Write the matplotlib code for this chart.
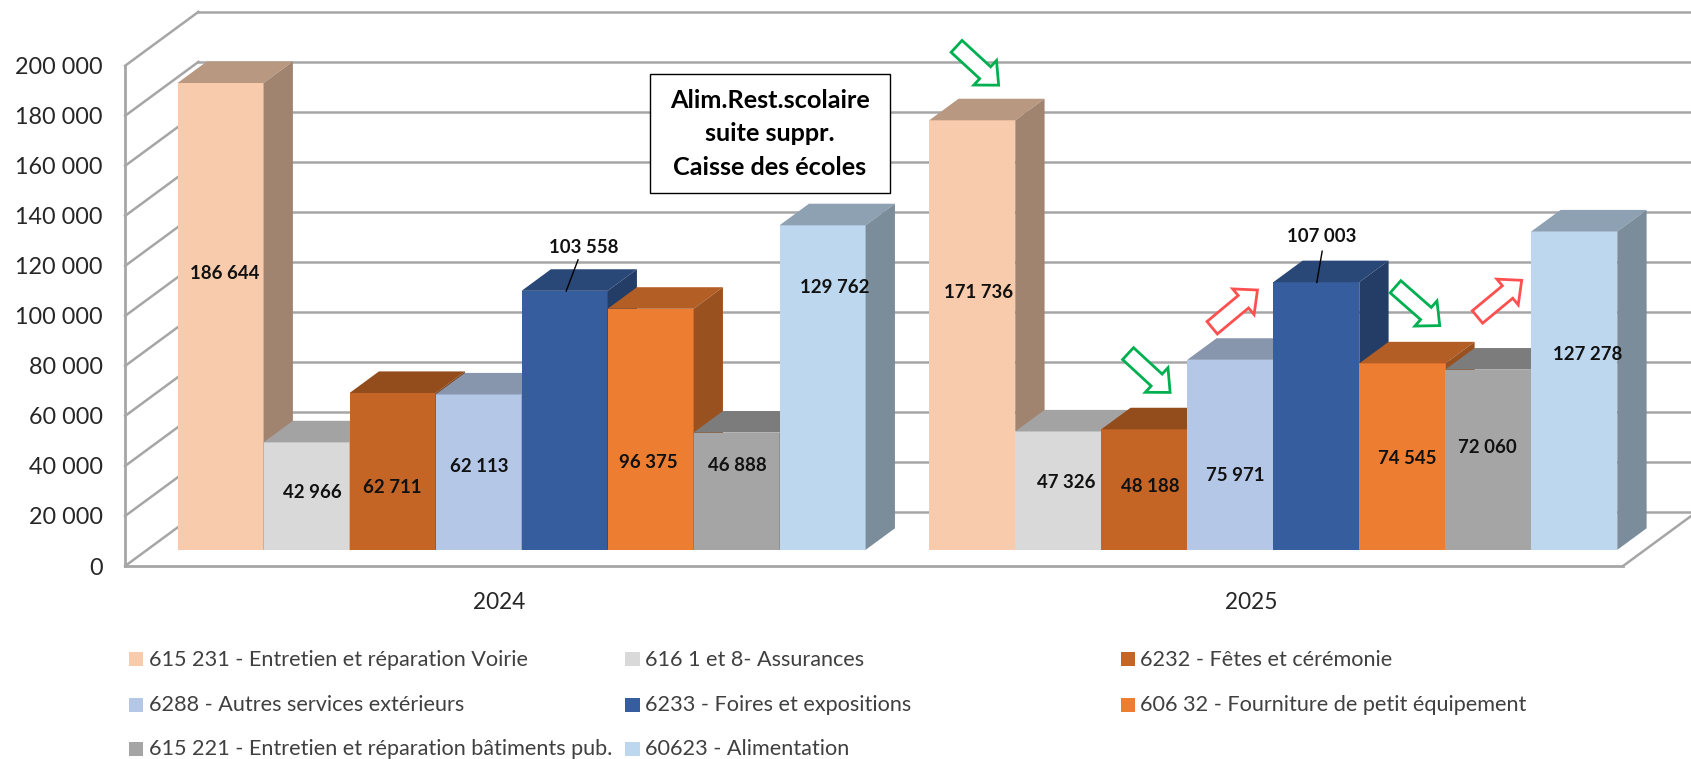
import matplotlib
matplotlib.use('Agg')
import matplotlib.pyplot as plt
from matplotlib.patches import FancyArrow, Rectangle
from matplotlib.ticker import FuncFormatter

plt.rcParams['font.family'] = ['Lato', 'DejaVu Sans']

# donnees
years = ['2024', '2025']
series = ['615 231 - Entretien et réparation Voirie',
          '616 1 et 8- Assurances',
          '6232 - Fêtes et cérémonie',
          '6288 - Autres services extérieurs',
          '6233 - Foires et expositions',
          '606 32 - Fourniture de petit équipement',
          '615 221 - Entretien et réparation bâtiments pub.',
          '60623 - Alimentation']
values_2024 = [186644, 42966, 62711, 62113, 103558, 96375, 46888, 129762]
values_2025 = [171736, 47326, 48188, 75971, 107003, 74545, 72060, 127278]
yticks = [0, 20000, 40000, 60000, 80000, 100000, 120000, 140000, 160000, 180000, 200000]
colors = ['#F7CBAC', '#D9D9D9', '#C46526', '#B4C7E7', '#365E9F', '#ED7D31', '#A5A5A5', '#BDD7EE']

GRID = '#A6A6A6'
W, H = 1568, 704      # repere de l'image reduite, pour les annotations
DX = 68 / 694.5       # profondeur du mur du fond, en unites de categorie
DY = 50 / 2.32 * 1000 # idem en unites de valeur
BW = 79.75 / 694.5    # largeur d'une barre
STEP = 697 / 694.5    # ecart entre les deux groupes

def fmt(v):
    return f'{v:,}'.replace(',', ' ')

def shade(c, k):
    rgb = matplotlib.colors.to_rgb(c)
    return tuple(x * k for x in rgb)

fig = plt.figure(figsize=(16.91, 7.59), dpi=100)
ax = fig.add_axes([116 / W, 1 - 525 / H, 1389 / W, 464 / H])
ax.set_xlim(-0.5, 1.5)
ax.set_ylim(0, 200000)
ax.patch.set_visible(False)

for s in ['top', 'right']:
    ax.spines[s].set_visible(False)
for s in ['left', 'bottom']:
    ax.spines[s].set_color(GRID)
    ax.spines[s].set_linewidth(2)
ax.spines['bottom'].set_zorder(1)

ax.set_yticks(yticks)
ax.yaxis.set_major_formatter(FuncFormatter(lambda v, p: fmt(int(v))))
ax.set_xticks([0, STEP])
ax.set_xticklabels(years)
ax.tick_params(axis='y', length=0, pad=16, labelsize=16.8, labelcolor='#262626')
ax.tick_params(axis='x', length=0, pad=19, labelsize=16.3, labelcolor='#262626')

# murs et grille
for v in yticks:
    ax.plot([-0.5, -0.5 + DX], [v, v + DY], color=GRID, lw=1.8, clip_on=False, zorder=1)
    ax.plot([-0.5 + DX, 1.5 + DX], [v + DY, v + DY], color=GRID, lw=1.8, clip_on=False, zorder=1)
ax.plot([1.5, 1.5 + DX], [0, DY], color=GRID, lw=1.8, clip_on=False, zorder=1)

# barres : de gauche a droite, chaque face avant recouvre le cote de la precedente
z = 2
for k, vals in enumerate([values_2024, values_2025]):
    for i, v in enumerate(vals):
        x0 = k * STEP + (i - 4) * BW + 0.3 * DX
        x1 = x0 + BW
        y0 = 0.3 * DY
        y1 = y0 + v
        ddx, ddy = 0.4 * DX, 0.4 * DY
        ax.bar(x0, v, BW, bottom=y0, align='edge', color=colors[i], clip_on=False, zorder=z)
        ax.fill([x0, x1, x1 + ddx, x0 + ddx], [y1, y1, y1 + ddy, y1 + ddy],
                color=shade(colors[i], 0.75), lw=0, clip_on=False, zorder=z)
        ax.fill([x1, x1 + ddx, x1 + ddx, x1], [y0, y0 + ddy, y1 + ddy, y1],
                color=shade(colors[i], 0.65), lw=0, clip_on=False, zorder=z)
        z += 1

# calque pour etiquettes, fleches et legende
ov = fig.add_axes([0, 0, 1, 1])
ov.set_xlim(0, W)
ov.set_ylim(H, 0)
ov.axis('off')

label_pos_2024 = [(208, 254), (290, 457), (364, 452), (444, 433), (541, 230), (601, 429), (684, 432), (774, 267)]
label_pos_2025 = [(907, 271), (989, 448), (1067, 451), (1145, 441), (1226, 219), (1305, 425), (1379, 415), (1472, 329)]
for vals, pos in [(values_2024, label_pos_2024), (values_2025, label_pos_2025)]:
    for v, (x, y) in zip(vals, pos):
        ov.text(x, y, fmt(v), ha='center', va='center', fontsize=13.4, fontweight='bold', color='#111111')

# traits de rappel
ov.plot([536, 525], [241, 270], color='black', lw=1)
ov.plot([1226, 1221], [233, 262], color='black', lw=1)

# encadre
ov.add_patch(Rectangle((603, 69), 222, 110, fc='white', ec='black', lw=1, zorder=5))
for y, t in zip([93, 124, 155], ['Alim.Rest.scolaire', 'suite suppr.', 'Caisse des écoles']):
    ov.text(714, y, t, ha='center', va='center', fontsize=18.2, fontweight='bold', color='black', zorder=6)

# fleches
GREEN, RED = '#00B050', '#FF5050'
arrows = [((887, 43), (926, 79), GREEN), ((1046, 328), (1085, 364), GREEN),
          ((1124, 304), (1166, 269), RED), ((1294, 266), (1335, 302), GREEN),
          ((1370, 294), (1411, 260), RED)]
for (x0, y0), (x1, y1), c in arrows:
    ov.add_patch(FancyArrow(x0, y0, x1 - x0, y1 - y0, width=15, head_width=31, head_length=17,
                            length_includes_head=True, fc='white', ec=c, lw=2, zorder=5))

# legende
legend_pos = [(120, 612), (580, 612), (1039, 612), (120, 654), (580, 654), (1039, 654), (120, 695), (580, 695)]
for name, c, (x, y) in zip(series, colors, legend_pos):
    ov.add_patch(Rectangle((x, y - 7), 13, 13, fc=c, ec='none'))
    ov.text(x + 18, y, name, ha='left', va='center', fontsize=15.6, color='#404040')

fig.savefig('out.png', dpi=100)
